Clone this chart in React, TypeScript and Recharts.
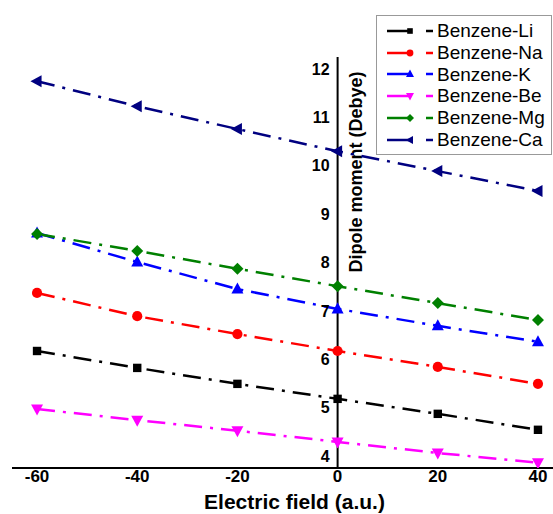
import { LineChart, Line, XAxis, YAxis, ReferenceLine, ReferenceDot, Legend } from 'recharts'

const FIELD = [-60, -40, -20, 0, 20, 40]
const LI = [6.17, 5.82, 5.49, 5.18, 4.87, 4.54]
const NA = [7.37, 6.89, 6.52, 6.17, 5.84, 5.49]
const K = [8.61, 8.01, 7.45, 7.04, 6.69, 6.36]
const BE = [4.97, 4.74, 4.52, 4.29, 4.06, 3.86]
const MG = [8.59, 8.24, 7.87, 7.51, 7.16, 6.81]
const CA = [11.75, 11.23, 10.76, 10.3, 9.89, 9.48]

const X_TICKS = [-60, -40, -20, 0, 20, 40]
const Y_TICKS = [4, 5, 6, 7, 8, 9, 10, 11, 12]

const FONT = '"Liberation Sans", Arial, sans-serif'
const DASH = '18 8 3 8'

type Shape = 'square' | 'circle' | 'up' | 'down' | 'diamond' | 'left'

const SERIES: { key: string; name: string; color: string; shape: Shape; values: number[] }[] = [
  { key: 'li', name: 'Benzene-Li', color: '#000000', shape: 'square', values: LI },
  { key: 'na', name: 'Benzene-Na', color: '#ff0000', shape: 'circle', values: NA },
  { key: 'k', name: 'Benzene-K', color: '#0000ff', shape: 'up', values: K },
  { key: 'be', name: 'Benzene-Be', color: '#ff00ff', shape: 'down', values: BE },
  { key: 'mg', name: 'Benzene-Mg', color: '#008000', shape: 'diamond', values: MG },
  { key: 'ca', name: 'Benzene-Ca', color: '#000080', shape: 'left', values: CA },
]

const data = FIELD.map((f, i) => {
  const row: Record<string, number> = { f }
  SERIES.forEach(s => { row[s.key] = s.values[i] })
  return row
})

function marker(shape: Shape, cx: number, cy: number, s: number, color: string, key?: string) {
  if (shape === 'square') return <rect key={key} x={cx - s * 0.7} y={cy - s * 0.7} width={s * 1.4} height={s * 1.4} fill={color} />
  if (shape === 'circle') return <circle key={key} cx={cx} cy={cy} r={s * 0.85} fill={color} />
  const pts: Record<string, number[][]> = {
    up: [[0, -1.1], [-1, 0.75], [1, 0.75]],
    down: [[0, 1.1], [-1, -0.75], [1, -0.75]],
    diamond: [[0, -1], [1, 0], [0, 1], [-1, 0]],
    left: [[-1.1, 0], [0.75, -1], [0.75, 1]],
  }
  const p = pts[shape].map(([a, b]) => `${cx + a * s},${cy + b * s}`).join(' ')
  return <polygon key={key} points={p} fill={color} />
}

const makeDot = (shape: Shape, color: string) => (props: any) =>
  marker(shape, props.cx, props.cy, 6, color, `${shape}-${props.index}`)

// legend keeps the series order of the original figure
const LegendBox = () => (
  <div style={{ border: '1px solid #999', background: '#fff', padding: '4px 0 3px 10px', fontFamily: FONT }}>
    {SERIES.map(s => (
      <div key={s.key} style={{ display: 'flex', alignItems: 'center', height: 21.8 }}>
        <svg width={50} height={14}>
          <line x1={0} y1={7} x2={24} y2={7} stroke={s.color} strokeWidth={2.5} />
          {marker(s.shape, 23, 7, 4, s.color)}
          <line x1={39} y1={7} x2={46} y2={7} stroke={s.color} strokeWidth={2.5} />
        </svg>
        <span style={{ fontSize: 19, color: '#000' }}>{s.name}</span>
      </div>
    ))}
  </div>
)

const XTitle = ({ viewBox }: any) => (
  <text x={viewBox.x + viewBox.width / 2 + 12} y={viewBox.y + 33} textAnchor="middle" dominantBaseline="central"
    fontFamily={FONT} fontSize={21} fontWeight="bold" fill="#000">Electric field (a.u.)</text>
)

const YTitle = ({ viewBox }: any) => {
  const cx = viewBox.x + 18
  const cy = viewBox.y + 115
  return (
    <text x={cx} y={cy} transform={`rotate(-90 ${cx} ${cy})`} textAnchor="middle" dominantBaseline="central"
      fontFamily={FONT} fontSize={18} fontWeight="bold" fill="#000">Dipole moment (Debye)</text>
  )
}

export default function App() {
  return (
    <div style={{ position: 'absolute', left: 0, top: 0, background: '#fff' }}>
      <LineChart width={553} height={514} data={data} margin={{ top: 57, right: 0, left: 12, bottom: 0 }}>
        <XAxis dataKey="f" type="number" domain={[-65, 43]} ticks={X_TICKS} interval={0} allowDataOverflow
          height={46} tickLine={false} tickSize={0} tickMargin={2}
          axisLine={{ stroke: '#000', strokeWidth: 2 }}
          tick={{ fontSize: 17, fontWeight: 'bold', fill: '#000', fontFamily: FONT }}
          label={<XTitle />} />
        <YAxis type="number" domain={[3.75, 12.25]} hide allowDataOverflow />
        <ReferenceLine x={0} stroke="#000" strokeWidth={2} label={<YTitle />} />
        {Y_TICKS.map(v => (
          <ReferenceDot key={v} x={0} y={v} r={0} fill="none" stroke="none"
            label={{ value: v, position: 'left', offset: 8, fontSize: 16, fontWeight: 'bold', fill: '#000', fontFamily: FONT }} />
        ))}
        {SERIES.map(s => (
          <Line key={s.key} dataKey={s.key} name={s.name} stroke={s.color} strokeWidth={2.5}
            strokeDasharray={DASH} dot={makeDot(s.shape, s.color)} activeDot={false}
            isAnimationActive={false} />
        ))}
        <Legend layout="vertical" align="center" verticalAlign="middle" content={<LegendBox />}
          wrapperStyle={{ top: 15, left: 376, width: 176 }} />
      </LineChart>
    </div>
  )
}
